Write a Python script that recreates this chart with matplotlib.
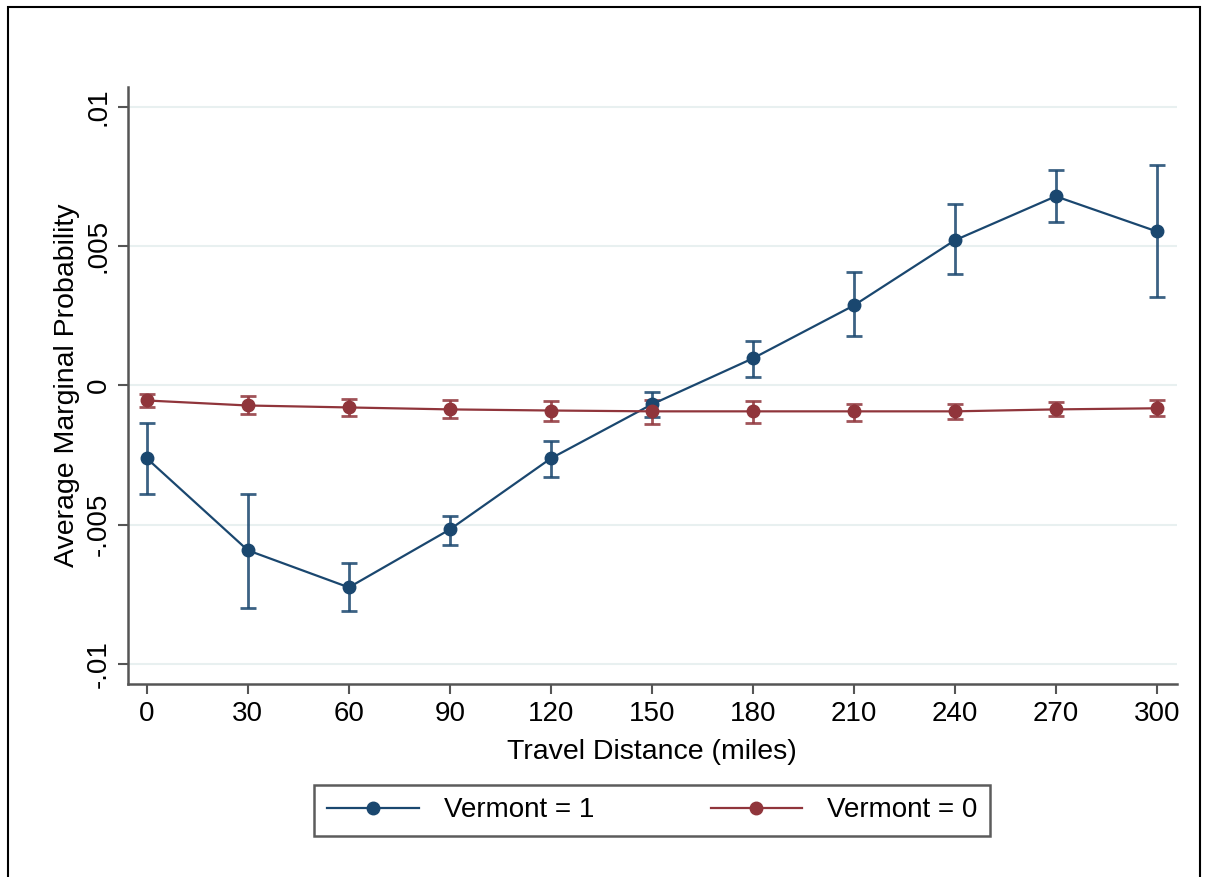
import numpy as np
import matplotlib
matplotlib.use("Agg")
from matplotlib import pyplot as plt
from matplotlib.patches import Rectangle

plt.rcParams['font.family'] = ['Liberation Sans', 'DejaVu Sans']

# Travel distance (miles)
distance = [0, 30, 60, 90, 120, 150, 180, 210, 240, 270, 300]

# Vermont = 1
vt1 = [-0.00262, -0.00592, -0.00725, -0.00517, -0.00262, -0.00068, 0.00097, 0.00287, 0.00521, 0.00679, 0.00553]
vt1_lo = [-0.00391, -0.00800, -0.00808, -0.00571, -0.00327, -0.00115, 0.00029, 0.00176, 0.00399, 0.00585, 0.00316]
vt1_hi = [-0.00136, -0.00391, -0.00639, -0.00467, -0.00201, -0.00022, 0.00158, 0.00406, 0.00650, 0.00772, 0.00790]

# Vermont = 0
vt0 = [-0.00054, -0.00072, -0.00079, -0.00086, -0.00090, -0.00093, -0.00093, -0.00093, -0.00093, -0.00086, -0.00082]
vt0_lo = [-0.00079, -0.00104, -0.00111, -0.00118, -0.00126, -0.00140, -0.00136, -0.00126, -0.00122, -0.00111, -0.00108]
vt0_hi = [-0.00032, -0.00039, -0.00047, -0.00054, -0.00057, -0.00054, -0.00057, -0.00065, -0.00065, -0.00061, -0.00054]

yticks = [-0.01, -0.005, 0, 0.005, 0.01]
ylabels = ['-.01', '-.005', '0', '.005', '.01']

blue = '#1a476f'
red = '#90353b'

fig = plt.figure(figsize=(12.08, 8.77), dpi=100)
ax = fig.add_axes([0.106, 0.22, 0.868, 0.681])

x = np.array(distance)
for y, lo, hi, c, lab in [(vt1, vt1_lo, vt1_hi, blue, 'Vermont = 1'),
                          (vt0, vt0_lo, vt0_hi, red, 'Vermont = 0')]:
    y = np.array(y)
    ax.errorbar(x, y, yerr=[y - np.array(lo), np.array(hi) - y], fmt='none',
                ecolor=c, elinewidth=2, capsize=6, capthick=2, alpha=0.85, zorder=2)
    ax.plot(x, y, color=c, lw=1.6, marker='o', ms=9, label=lab, zorder=3)

ax.set_xlim(-5.6, 305.9)
ax.set_ylim(-0.01072, 0.01072)
ax.set_xticks(distance)
ax.set_yticks(yticks)
ax.set_yticklabels(ylabels, rotation=90, va='center')
ax.tick_params(axis='both', labelsize=20, length=7, width=1.5, color='#555555',
               direction='out', pad=5)
ax.grid(axis='y', color='#e8f0f0', lw=1.5)
ax.set_axisbelow(True)
for s in ['top', 'right']:
    ax.spines[s].set_visible(False)
for s in ['left', 'bottom']:
    ax.spines[s].set_color('#555555')
    ax.spines[s].set_linewidth(1.8)
ax.set_xlabel('Travel Distance (miles)', fontsize=20.5, labelpad=9)
ax.set_ylabel('Average Marginal Probability', fontsize=20.5, labelpad=4)

leg = fig.legend(loc='center', bbox_to_anchor=(0.54, 0.076), ncol=2, fontsize=20,
                 frameon=True, fancybox=False, edgecolor='#333333', handlelength=3.3,
                 columnspacing=4.2, borderpad=0.45, handletextpad=0.9, borderaxespad=0)
leg.get_frame().set_linewidth(1.8)

fig.patches.append(Rectangle((0.007, -0.01), 0.986, 1.002, transform=fig.transFigure,
                             fill=False, edgecolor='black', lw=1.5))

fig.savefig('out.png', dpi=100)
